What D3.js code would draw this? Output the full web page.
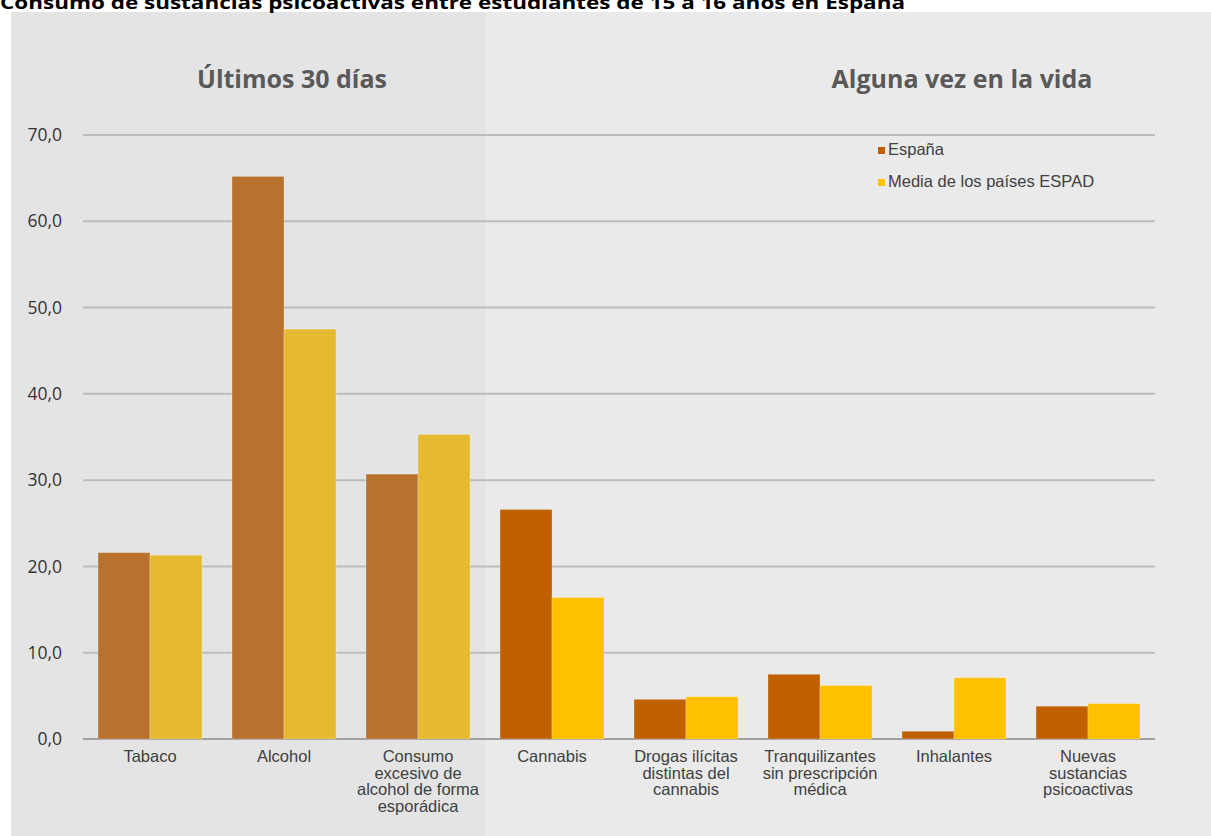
<!DOCTYPE html>
<html>
<head>
<meta charset="utf-8">
<script src="https://cdn.jsdelivr.net/npm/d3@7"></script>
<style>
  body { margin: 0; background: #fff; }
  svg { display: block; }
</style>
</head>
<body>
<div id="chart"></div>
<script>
// datos
const categories = ["Tabaco", "Alcohol", "Consumo excesivo de alcohol de forma esporádica", "Cannabis",
  "Drogas ilícitas distintas del cannabis", "Tranquilizantes sin prescripción médica", "Inhalantes",
  "Nuevas sustancias psicoactivas"];
const labelLines = [["Tabaco"], ["Alcohol"], ["Consumo", "excesivo de", "alcohol de forma", "esporádica"],
  ["Cannabis"], ["Drogas ilícitas", "distintas del", "cannabis"], ["Tranquilizantes", "sin prescripción", "médica"],
  ["Inhalantes"], ["Nuevas", "sustancias", "psicoactivas"]];
const espana = [21.6, 65.2, 30.7, 26.6, 4.6, 7.5, 0.9, 3.8];
const mediaEspad = [21.3, 47.5, 35.3, 16.4, 4.9, 6.2, 7.1, 4.1];
const seriesNames = ["España", "Media de los países ESPAD"];
const yTicks = [0, 10, 20, 30, 40, 50, 60, 70];
const groups = ["Últimos 30 días", "Alguna vez en la vida"];
const nFirstGroup = 3;

const width = 1211, height = 836;
const colorsLeft = ["#b8722e", "#e6ba30"];
const colorsRight = ["#c06000", "#ffc000"];

const svg = d3.select("#chart").append("svg")
  .attr("width", width)
  .attr("height", height);

const x = d3.scaleBand()
  .domain(categories)
  .range([83, 1155])
  .paddingInner(0.224)
  .paddingOuter(0.112);

const x1 = d3.scaleBand()
  .domain([0, 1])
  .range([0, x.bandwidth()]);

const y = d3.scaleLinear()
  .domain([0, 70])
  .range([739, 135]);

// fondos de los dos paneles
const split = (x(categories[nFirstGroup - 1]) + x.bandwidth() + x(categories[nFirstGroup])) / 2;
svg.append("rect").attr("x", 11).attr("y", 12)
  .attr("width", split - 11).attr("height", height - 12).attr("fill", "#e4e4e4");
svg.append("rect").attr("x", split).attr("y", 12)
  .attr("width", width - split).attr("height", height - 12).attr("fill", "#eaeaea");

// titulo (cortado arriba)
svg.append("text")
  .attr("x", 0).attr("y", 9)
  .attr("font-family", "'Open Sans', sans-serif")
  .attr("font-weight", "bold")
  .attr("font-size", 18)
  .attr("textLength", 905)
  .attr("lengthAdjust", "spacingAndGlyphs")
  .text("Consumo de sustancias psicoactivas entre estudiantes de 15 a 16 años en España");

// titulos de panel
svg.selectAll(".group-title")
  .data(groups)
  .enter().append("text")
  .attr("x", (d, i) => i === 0 ? 292 : 962)
  .attr("y", 88)
  .attr("text-anchor", "middle")
  .attr("font-family", "'Open Sans', sans-serif")
  .attr("font-weight", "bold")
  .attr("font-size", 25)
  .attr("fill", "#595959")
  .text(d => d);

// rejilla y eje y
const yAxis = d3.axisLeft(y)
  .tickValues(yTicks)
  .tickSize(0)
  .tickPadding(21)
  .tickFormat(d => d3.format(".1f")(d).replace(".", ","));

const gy = svg.append("g")
  .attr("transform", "translate(83,0)")
  .call(yAxis);
gy.select(".domain").remove();
gy.selectAll("text")
  .attr("font-family", "'Open Sans', sans-serif")
  .attr("font-size", 17.5)
  .attr("fill", "#333333");

svg.append("g").selectAll("line")
  .data(yTicks)
  .enter().append("line")
  .attr("x1", 83).attr("x2", 1155)
  .attr("y1", d => y(d)).attr("y2", d => y(d))
  .attr("stroke", d => d === 0 ? "#a0a0a0" : "#bcbcbc")
  .attr("stroke-width", 2);

// barras
const series = [espana, mediaEspad];
categories.forEach((c, ci) => {
  const cols = ci < nFirstGroup ? colorsLeft : colorsRight;
  series.forEach((s, si) => {
    svg.append("rect")
      .attr("x", x(c) + x1(si))
      .attr("y", y(s[ci]))
      .attr("width", x1.bandwidth())
      .attr("height", y(0) - y(s[ci]))
      .attr("fill", cols[si])
      .attr("stroke", "rgba(255,255,255,0.25)")
      .attr("stroke-width", 1);
  });
});

// etiquetas eje x
const xl = svg.append("g").selectAll("text")
  .data(categories)
  .enter().append("text")
  .attr("x", d => x(d) + x.bandwidth() / 2)
  .attr("y", 762)
  .attr("text-anchor", "middle")
  .attr("font-family", "'Liberation Sans', Arial, sans-serif")
  .attr("font-size", 16.5)
  .attr("fill", "#404040");
xl.each(function(d, i) {
  d3.select(this).selectAll("tspan")
    .data(labelLines[i])
    .enter().append("tspan")
    .attr("x", x(d) + x.bandwidth() / 2)
    .attr("dy", (t, j) => j === 0 ? 0 : 16.7)
    .text(t => t);
});

// leyenda
const legend = svg.append("g").attr("transform", "translate(878,147)");
seriesNames.forEach((n, i) => {
  legend.append("rect")
    .attr("x", 0).attr("y", i * 32)
    .attr("width", 7).attr("height", 7)
    .attr("fill", colorsRight[i]);
  legend.append("text")
    .attr("x", 10).attr("y", i * 32 + 8)
    .attr("font-family", "'Liberation Sans', Arial, sans-serif")
    .attr("font-size", 16.5)
    .attr("fill", "#404040")
    .text(n);
});
</script>
</body>
</html>
